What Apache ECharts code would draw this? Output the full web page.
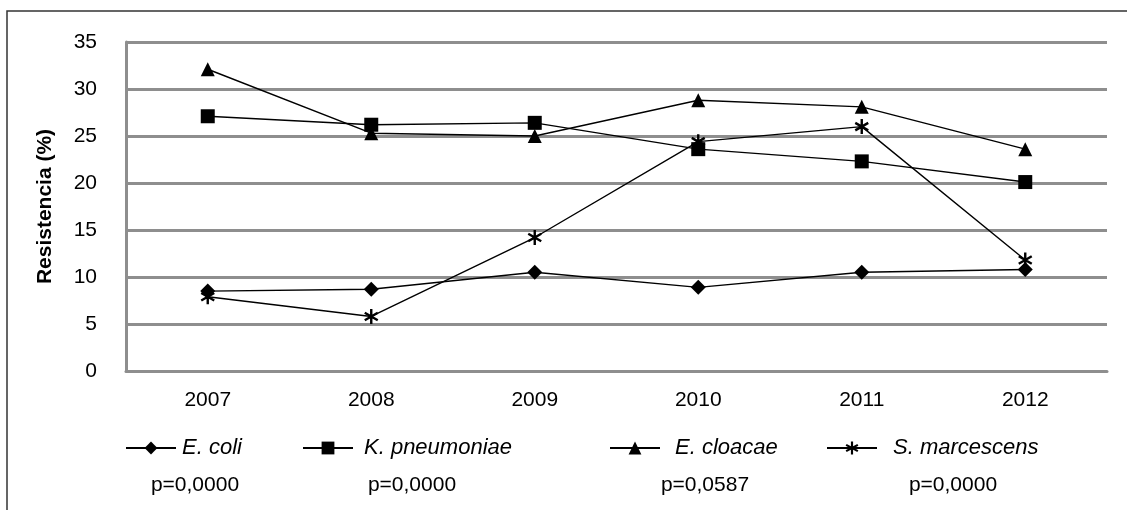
<!DOCTYPE html>
<html>
<head>
<meta charset="utf-8">
<script src="https://cdn.jsdelivr.net/npm/echarts@6/dist/echarts.min.js"></script>
<style>
html,body{margin:0;padding:0;background:#fff;}
#chart{width:1127px;height:510px;}
</style>
</head>
<body>
<div id="chart"></div>
<script>
// ---- data ----
const years = ['2007', '2008', '2009', '2010', '2011', '2012'];
const eColi = [8.5, 8.7, 10.5, 8.9, 10.5, 10.8];
const kPneumoniae = [27.1, 26.2, 26.4, 23.6, 22.3, 20.1];
const eCloacae = [32.1, 25.3, 25.0, 28.8, 28.1, 23.6];
const sMarcescens = [7.9, 5.8, 14.2, 24.4, 26.0, 11.8];
const seriesNames = ['E. coli', 'K. pneumoniae', 'E. cloacae', 'S. marcescens'];
const pValues = ['p=0,0000', 'p=0,0000', 'p=0,0587', 'p=0,0000'];
const yAxisTitle = 'Resistencia (%)';
const yMin = 0, yMax = 35, yStep = 5;

// ---- styling helpers ----
function asteriskPath() {
  const cx = 50, cy = 50, L = 50, t = 8;
  let d = '';
  [90, 30, 150].forEach(function (deg) {
    const a = deg * Math.PI / 180;
    const dx = Math.cos(a), dy = -Math.sin(a);
    const nx = -dy, ny = dx;
    const pts = [
      [cx + L * dx + t * nx, cy + L * dy + t * ny],
      [cx + L * dx - t * nx, cy + L * dy - t * ny],
      [cx - L * dx - t * nx, cy - L * dy - t * ny],
      [cx - L * dx + t * nx, cy - L * dy + t * ny]
    ];
    d += 'M' + pts.map(function (p) { return p[0].toFixed(2) + ' ' + p[1].toFixed(2); }).join('L') + 'Z';
  });
  return 'path://' + d;
}
const symbols = ['diamond', 'rect', 'triangle', asteriskPath()];
const symbolSizes = [15, 14, 14, 15];
const seriesData = [eColi, kPneumoniae, eCloacae, sMarcescens];
const FONT = "'Liberation Sans', Arial, sans-serif";

const chart = echarts.init(document.getElementById('chart'), null, { renderer: 'canvas' });

const series = seriesNames.map(function (name, i) {
  return {
    name: name,
    type: 'line',
    data: seriesData[i],
    symbol: symbols[i],
    symbolSize: symbolSizes[i],
    symbolKeepAspect: true,
    showAllSymbol: true,
    lineStyle: { color: '#000', width: 1.4 },
    itemStyle: { color: '#000', borderWidth: 0 },
    emphasis: { disabled: true },
    animation: false,
    z: 3
  };
});

const legendLefts = [125, 302, 609, 826];
const legendTextPad = [1, 6, 10, 11];
const legends = seriesNames.map(function (name, i) {
  return {
    data: [name],
    left: legendLefts[i],
    top: 437,
    padding: 0,
    itemWidth: 50,
    itemHeight: 16,
    itemGap: 0,
    selectedMode: false,
    textStyle: { fontFamily: FONT, fontSize: 22, fontStyle: 'italic', color: '#000', padding: [0, 0, 0, legendTextPad[i]] }
  };
});

const pCenters = [195, 412, 705, 953];
const graphics = pValues.map(function (txt, i) {
  return {
    type: 'text',
    x: pCenters[i],
    y: 485,
    style: { text: txt, font: '21px ' + FONT, fill: '#000', align: 'center', verticalAlign: 'middle' }
  };
});
graphics.push({
  type: 'polyline',
  shape: { points: [[7, 510], [7, 11], [1127, 11]] },
  style: { stroke: '#333', lineWidth: 1.5, fill: null },
  silent: true
});

chart.setOption({
  animation: false,
  backgroundColor: '#fff',
  grid: { left: 126, right: 20, top: 42, bottom: 139, containLabel: false },
  xAxis: {
    type: 'category',
    data: years,
    boundaryGap: true,
    axisLine: { show: true, lineStyle: { color: '#8e8e8e', width: 3 } },
    axisTick: { show: false },
    axisLabel: { fontFamily: FONT, fontSize: 21, color: '#000', margin: 19 },
    splitLine: { show: false }
  },
  yAxis: {
    type: 'value',
    min: yMin,
    max: yMax,
    interval: yStep,
    name: yAxisTitle,
    nameLocation: 'middle',
    nameGap: 70,
    nameTextStyle: { fontFamily: FONT, fontSize: 21, fontWeight: 'bold', color: '#000' },
    axisLine: { show: true, lineStyle: { color: '#8e8e8e', width: 3 } },
    axisTick: { show: false },
    axisLabel: { fontFamily: FONT, fontSize: 21, color: '#000', margin: 29 },
    splitLine: { show: true, lineStyle: { color: '#8e8e8e', width: 3 } }
  },
  legend: legends,
  graphic: graphics,
  series: series
});
</script>
</body>
</html>
